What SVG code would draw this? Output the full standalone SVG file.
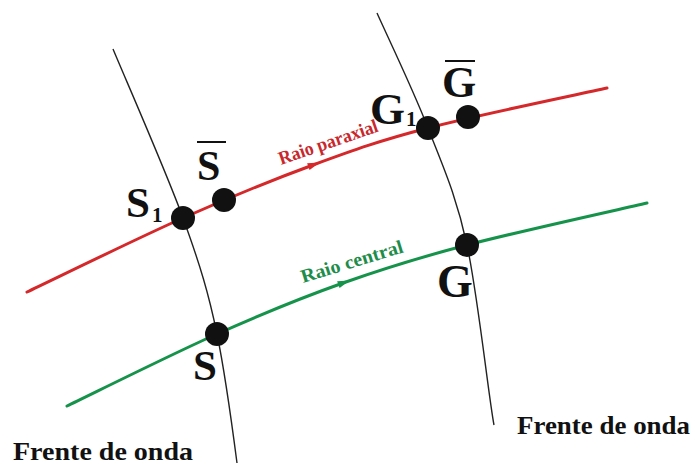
<svg xmlns="http://www.w3.org/2000/svg" width="695" height="465" viewBox="0 0 695 465">
<style>
.wave{fill:none;stroke:#222;stroke-width:1.4}
.ray{fill:none;stroke-width:3;stroke-linecap:round}
.red{stroke:#d4282b}
.green{stroke:#16934a}
.dot{fill:#111}
.lbl{font-family:"Liberation Serif",serif;font-weight:bold;fill:#111}
.rl{font-family:"Liberation Serif",serif;font-weight:bold;font-size:19px}
.bar{stroke:#111;stroke-width:2}
</style>
<defs>
<path id="arr" d="M6,0 L-6,-3.6 L-6,3.6 Z"/>
</defs>
<rect width="695" height="465" fill="#fff"/>
<g id="connectors">
<path class="wave" d="M113,49 C124.7,77.2 165.7,170.5 183,218 C200.3,265.5 208.7,293.7 217,334 C225.3,374.3 234,440 237,463"/>
<path class="wave" d="M377,13 C385.5,32.2 413,89.3 428,128 C443,166.7 456.2,195 467,245 C477.8,295 488.7,397.5 494,425"/>
<path class="ray red" d="M27,292 C53,279.7 135.3,239.2 183,218 C230.7,196.8 272.2,180 313,165 C353.8,150 379,140.8 428,128 C477,115.2 577.2,94.7 607,88"/>
<path class="ray green" d="M67,406 C92,394 171,354.5 217,334 C263,313.5 301.3,297.8 343,283 C384.7,268.2 416.3,258.3 467,245 C517.7,231.7 617,210 647,203"/>
<use href="#arr" fill="#d4282b" transform="translate(314,164.6) rotate(-20)"/>
<use href="#arr" fill="#16934a" transform="translate(344,282.6) rotate(-20)"/>
<text class="rl" fill="#c8282d" transform="translate(281,165) rotate(-19)" textLength="104" lengthAdjust="spacingAndGlyphs">Raio paraxial</text>
<text class="rl" fill="#1e8c4a" transform="translate(303,283) rotate(-17)" textLength="106" lengthAdjust="spacingAndGlyphs">Raio central</text>
</g>
<g id="S1">
<circle class="dot" cx="183" cy="218" r="12"/>
<text class="lbl" x="126" y="217" font-size="43">S</text>
<text class="lbl" x="152" y="222" font-size="21">1</text>
</g>
<g id="Sbar">
<circle class="dot" cx="224" cy="200" r="12"/>
<line class="bar" x1="197" y1="142" x2="226" y2="142"/>
<text class="lbl" x="197" y="180" font-size="42">S</text>
</g>
<g id="S">
<circle class="dot" cx="217" cy="334" r="12"/>
<text class="lbl" x="193" y="380" font-size="43">S</text>
</g>
<g id="G1">
<circle class="dot" cx="428" cy="128" r="12"/>
<text class="lbl" x="370" y="124" font-size="45">G</text>
<text class="lbl" x="406" y="126" font-size="21">1</text>
</g>
<g id="Gbar">
<circle class="dot" cx="468" cy="117" r="12"/>
<line class="bar" x1="445" y1="61" x2="475" y2="61"/>
<text class="lbl" x="442" y="97" font-size="44">G</text>
</g>
<g id="G">
<circle class="dot" cx="467" cy="245" r="12"/>
<text class="lbl" x="437" y="297" font-size="46">G</text>
</g>
<g id="wavefront-labels">
<text class="lbl" x="13" y="460" font-size="26" textLength="180" lengthAdjust="spacingAndGlyphs">Frente de onda</text>
<text class="lbl" x="517" y="434" font-size="26" textLength="173" lengthAdjust="spacingAndGlyphs">Frente de onda</text>
</g>
</svg>
